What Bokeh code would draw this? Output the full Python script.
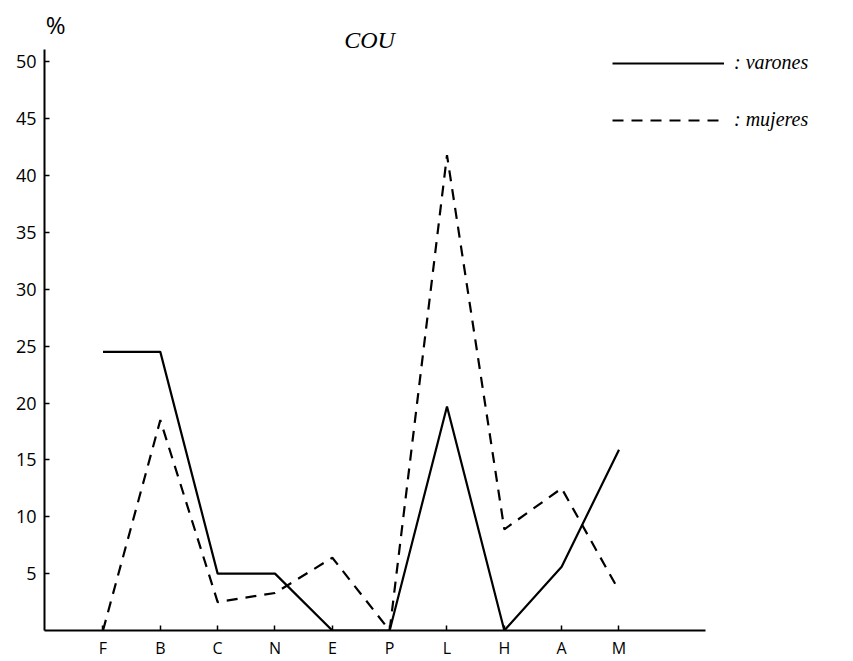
from bokeh.plotting import figure
from bokeh.models import Range1d, FixedTicker, Legend, LegendItem, Label
from bokeh.embed import file_html
from bokeh.resources import INLINE

categories = ["F", "B", "C", "N", "E", "P", "L", "H", "A", "M"]
varones = [24.5, 24.5, 5.0, 5.0, 0.0, 0.0, 19.7, 0.0, 5.6, 15.9]
mujeres = [0.0, 18.5, 2.5, 3.3, 6.4, 0.0, 41.8, 8.9, 12.5, 3.5]
y_ticks = [5, 10, 15, 20, 25, 30, 35, 40, 45, 50]

xs = list(range(len(categories)))

p = figure(width=853, height=661, output_backend="svg", toolbar_location=None,
           x_range=Range1d(-1.02, 13.09), y_range=Range1d(0, 55.4),
           min_border_left=44, min_border_right=0, min_border_top=0, min_border_bottom=31)
p.outline_line_color = None
p.grid.visible = False
p.background_fill_color = "white"
p.border_fill_color = "white"

serif = "Liberation Serif"
hand = "Open Sans"

r1 = p.line(xs, varones, line_color="black", line_width=2.2)
r2 = p.line(xs, mujeres, line_color="black", line_width=2.2, line_dash="11 8")

for ax in (p.xaxis[0], p.yaxis[0]):
    ax.axis_line_width = 2
    ax.axis_line_color = "black"
    ax.major_tick_in = 5
    ax.major_tick_out = 0
    ax.minor_tick_line_color = None
    ax.major_tick_line_width = 1.5
    ax.major_label_text_color = "black"
    ax.major_label_text_font = hand

p.xaxis.bounds = (-1.02, 10.5)
p.xaxis.ticker = FixedTicker(ticks=xs)
p.xaxis.major_label_overrides = {i: c for i, c in enumerate(categories)}
p.xaxis.major_label_text_font_size = "16px"
p.xaxis.major_label_standoff = 6

p.yaxis.bounds = (0, 51.1)
p.yaxis.ticker = FixedTicker(ticks=y_ticks)
p.yaxis.major_label_text_font_size = "18px"
p.yaxis.major_label_standoff = 8

title = Label(x=4.65, y=51.9, text="COU", text_font=serif, text_font_style="italic",
              text_font_size="24px", text_align="center", text_baseline="middle",
              text_color="black")
p.add_layout(title)

pct = Label(x=-1.0, y=53.3, text="%", text_font=hand, text_font_size="24px",
            text_align="left", text_baseline="middle", text_color="black")
p.add_layout(pct)

legend = Legend(items=[LegendItem(label=": varones", renderers=[r1]),
                       LegendItem(label=": mujeres", renderers=[r2])],
                location=(568, 499), padding=0, margin=0, spacing=34,
                glyph_width=112, glyph_height=20, label_height=20, label_standoff=10,
                label_text_font=serif, label_text_font_style="italic",
                label_text_font_size="20px", label_text_color="black",
                border_line_color=None, background_fill_alpha=0)
p.add_layout(legend, "center")

open("out.html", "w").write(file_html(p, INLINE))
